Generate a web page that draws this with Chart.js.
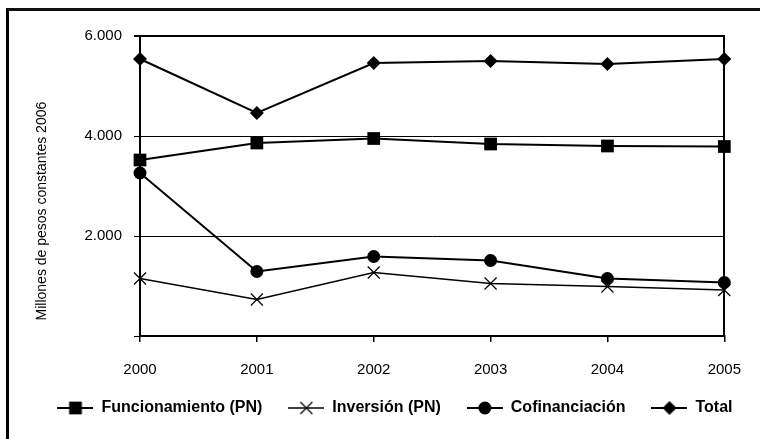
<!DOCTYPE html>
<html>
<head>
<meta charset="utf-8">
<script src="https://cdn.jsdelivr.net/npm/chart.js@4.4.1/dist/chart.umd.min.js"></script>
<style>
    html, body { margin: 0; padding: 0; background: #fff; }
    #wrap { position: relative; width: 760px; height: 439px; overflow: hidden; }
    #frame { position: absolute; left: 6px; top: 8px; width: 800px; height: 480px;
             border-left: 3px solid #000; border-top: 3px solid #111; pointer-events: none; }
</style>
</head>
<body>
<div id="wrap">
    <canvas id="gastoGraph"></canvas>
    <div id="frame"></div>
</div>
<script>
// chart values
const years = ["2000", "2001", "2002", "2003", "2004", "2005"];
const funcionamiento = [3520, 3860, 3950, 3840, 3800, 3790];
const inversion = [1150, 730, 1270, 1050, 990, 920];
const cofinanciacion = [3260, 1290, 1590, 1510, 1150, 1070];
const total = [5540, 4460, 5460, 5500, 5440, 5540];
const yTicks = [0, 2000, 4000, 6000];

const FONT = "'Liberation Sans', Arial, sans-serif";
Chart.defaults.font.family = FONT;
Chart.defaults.color = "#000";

// small canvas with line + marker, used as legend symbol
function make_legend_icon(style, radius, borderWidth, lineWidth) {
    const c = document.createElement("canvas");
    c.width = 36;
    c.height = 16;
    const ctx = c.getContext("2d");
    ctx.strokeStyle = "#000";
    ctx.fillStyle = "#000";
    ctx.lineWidth = lineWidth;
    ctx.beginPath();
    ctx.moveTo(0, 8);
    ctx.lineTo(36, 8);
    ctx.stroke();
    ctx.lineWidth = borderWidth;
    Chart.helpers.drawPoint(ctx, { pointStyle: style, radius: radius, borderWidth: borderWidth, rotation: 0 }, 18, 8);
    return c;
}

function format_miles(v) {
    if (v === 0) { return ""; }
    return String(v).replace(/\B(?=(\d{3})+(?!\d))/g, ".");
}

const series = [
    { label: "Funcionamiento (PN)", data: funcionamiento, style: "rect", radius: 9, bw: 0, lw: 2 },
    { label: "Inversión (PN)", data: inversion, style: "crossRot", radius: 8.5, bw: 1.2, lw: 1.5 },
    { label: "Cofinanciación", data: cofinanciacion, style: "circle", radius: 6.5, bw: 0, lw: 2 },
    { label: "Total", data: total, style: "rectRot", radius: 7, bw: 0, lw: 2 }
];

const datasets = series.map(s => ({
    label: s.label,
    data: s.data,
    borderColor: "#000",
    backgroundColor: "#000",
    borderWidth: s.lw,
    tension: 0,
    pointStyle: s.style,
    pointRadius: s.radius,
    pointHoverRadius: s.radius,
    pointBorderWidth: s.bw,
    pointBorderColor: "#000",
    pointBackgroundColor: "#000",
    clip: false
}));

const icons = series.map(s => make_legend_icon(s.style, s.radius, s.bw, s.lw));

const config = {
    type: "line",
    data: { labels: years, datasets: datasets },
    options: {
        responsive: true,
        maintainAspectRatio: false,
        animation: false,
        layout: { padding: { left: 30, right: 0, top: 36, bottom: 13 } },
        plugins: {
            tooltip: { enabled: false },
            legend: {
                position: "bottom",
                labels: {
                    usePointStyle: true,
                    pointStyleWidth: 36,
                    padding: 26,
                    color: "#000",
                    font: { family: FONT, size: 16, weight: "bold" },
                    generateLabels: chart => chart.data.datasets.map((ds, i) => ({
                        text: ds.label,
                        pointStyle: icons[i],
                        fillStyle: "#000",
                        strokeStyle: "#000",
                        lineWidth: 0,
                        fontColor: "#000",
                        hidden: false,
                        datasetIndex: i
                    }))
                }
            }
        },
        scales: {
            x: {
                offset: false,
                grid: { drawOnChartArea: false, drawTicks: true, tickLength: 6, color: "#000", lineWidth: 1.5 },
                border: { display: true, color: "#000", width: 2 },
                ticks: { padding: 19, font: { size: 15 }, color: "#000", maxRotation: 0 },
                afterFit: scale => { scale.height = 38; }
            },
            y: {
                min: 0,
                max: 6000,
                afterBuildTicks: scale => { scale.ticks = yTicks.map(v => ({ value: v })); },
                grid: {
                    color: "#000",
                    lineWidth: ctx => (ctx.tick && ctx.tick.value === 6000 ? 2 : 1),
                    drawTicks: true,
                    tickLength: 6
                },
                border: { display: true, color: "#000", width: 2 },
                ticks: { padding: 12, font: { size: 15 }, color: "#000", callback: v => format_miles(v) },
                title: {
                    display: true,
                    text: "    Millones de pesos constantes 2006",
                    align: "start",
                    color: "#000",
                    font: { size: 14 },
                    padding: { top: 4, bottom: 0 }
                },
                afterFit: scale => { scale.width = 110; }
            },
            y2: {
                position: "right",
                min: 0,
                max: 6000,
                grid: { display: false, drawTicks: false },
                border: { display: true, color: "#000", width: 2 },
                ticks: { display: false },
                afterFit: scale => { scale.width = 34; }
            }
        }
    }
};

const gastoGraph = new Chart("gastoGraph", config);
</script>
</body>
</html>
